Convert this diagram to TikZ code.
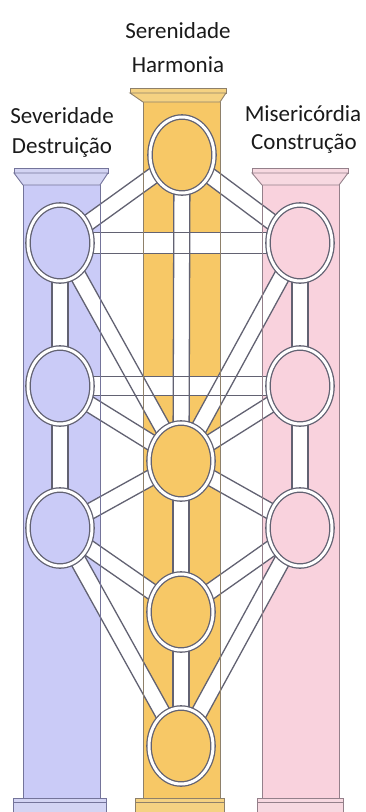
\documentclass[tikz,border=0pt]{standalone}
\usepackage{fontspec}
\setmainfont{Carlito}
\usetikzlibrary{shapes.geometric,calc}
\pgfdeclarelayer{pfill}\pgfdeclarelayer{cfill}\pgfdeclarelayer{cline}
\pgfsetlayers{pfill,cfill,cline,main}
\definecolor{lav}{HTML}{CACBF7}
\definecolor{lavcap}{HTML}{D3D4F3}
\definecolor{lavline}{HTML}{74749A}
\definecolor{pnk}{HTML}{F9D2DD}
\definecolor{pnkcap}{HTML}{F7D9E1}
\definecolor{pnkline}{HTML}{94808A}
\definecolor{ylw}{HTML}{F7C866}
\definecolor{ylwcap}{HTML}{F5D282}
\definecolor{ylwline}{HTML}{8E806A}
\definecolor{gline}{HTML}{626272}
\definecolor{txt}{HTML}{1A1A1A}
\begin{document}
\begin{tikzpicture}[x=1pt,y=-1pt,
  sephira/.style={ellipse, minimum width=64pt, minimum height=76pt, inner sep=0pt,
    draw=gline, line width=1.3pt, double=white, double distance=3pt},
  chanfill/.style={white, line cap=butt},
  chanline/.style={draw=gline, line width=1.3pt},
  lab/.style={font=\fontsize{23}{27}\selectfont, text=txt, anchor=base, inner sep=0pt}]
\useasboundingbox (0,0) rectangle (365,812);

% pillars (fills)
\begin{pgfonlayer}{pfill}
  % left
  \fill[lav] (23,185) rectangle (100,798);
  \filldraw[fill=lavcap, draw=lavline, line width=0.9pt] (14,168) rectangle (108,173);
  \filldraw[fill=lavcap, draw=lavline, line width=0.9pt] (14,173) -- (108,173) -- (100,185) -- (23,185) -- cycle;
  \filldraw[fill=lavcap, draw=lavline, line width=0.9pt] (13,798) rectangle (106,814);
  \draw[lavline, line width=0.7pt] (13,802) -- (106,802);
  % middle
  \fill[ylw] (143,102) rectangle (220,798);
  \filldraw[fill=ylwcap, draw=ylwline, line width=0.9pt] (130,88) rectangle (226,93);
  \filldraw[fill=ylwcap, draw=ylwline, line width=0.9pt] (130,93) -- (226,93) -- (220,102) -- (143,102) -- cycle;
  \filldraw[fill=ylwcap, draw=ylwline, line width=0.9pt] (135,798) rectangle (224,814);
  \draw[ylwline, line width=0.7pt] (135,802) -- (224,802);
  % right
  \fill[pnk] (262,185) rectangle (339,798);
  \filldraw[fill=pnkcap, draw=pnkline, line width=0.9pt] (252,168) rectangle (348,173);
  \filldraw[fill=pnkcap, draw=pnkline, line width=0.9pt] (252,173) -- (348,173) -- (339,185) -- (262,185) -- cycle;
  \filldraw[fill=pnkcap, draw=pnkline, line width=0.9pt] (257,798) rectangle (343,814);
  \draw[pnkline, line width=0.7pt] (257,802) -- (343,802);
\end{pgfonlayer}

% sephiroth
\node[sephira, fill=ylw] (kether)  at (182,155) {};
\node[sephira, fill=lav] (binah)   at (60,243) {};
\node[sephira, fill=pnk] (chokmah) at (300,243) {};
\node[sephira, fill=lav] (geburah) at (60,386) {};
\node[sephira, fill=pnk] (chesed)  at (300,386) {};
\node[sephira, fill=ylw] (tiph)    at (181,461) {};
\node[sephira, fill=lav] (hod)     at (60,528) {};
\node[sephira, fill=pnk] (netzach) at (300,528) {};
\node[sephira, fill=ylw] (yesod)   at (181,612) {};
\node[sephira, fill=ylw] (malkuth) at (181,746) {};

% channels
\def\chanlist{kether/binah/16/8, kether/chokmah/16/8, kether/tiph/16/8,
  binah/chokmah/21/10.5, binah/geburah/16/8, chokmah/chesed/16/8,
  binah/tiph/16/8, chokmah/tiph/16/8, geburah/chesed/19/9.5,
  geburah/tiph/16/8, chesed/tiph/16/8, geburah/hod/16/8, chesed/netzach/16/8,
  hod/tiph/16/8, netzach/tiph/16/8, hod/yesod/16/8, netzach/yesod/16/8,
  hod/malkuth/16/8, netzach/malkuth/16/8, tiph/yesod/16/8, yesod/malkuth/16/8}
\begin{pgfonlayer}{cfill}
  \foreach \a/\b/\w/\h in \chanlist {
    \draw[chanfill, line width=\w pt] (\a.center) -- (\b.center);
  }
\end{pgfonlayer}
\begin{pgfonlayer}{cline}
  \foreach \a/\b/\w/\h in \chanlist {
    \draw[chanline] ($(\a.center)!\h pt!90:(\b.center)$) -- ($(\b.center)!\h pt!-90:(\a.center)$);
    \draw[chanline] ($(\a.center)!\h pt!-90:(\b.center)$) -- ($(\b.center)!\h pt!90:(\a.center)$);
  }
  % pillar outlines over the channels
  \draw[lavline, line width=1pt] (23,185) -- (23,798) (100,185) -- (100,798);
  \draw[ylwline, line width=1pt] (143,102) -- (143,798) (220,102) -- (220,798);
  \draw[pnkline, line width=1pt] (262,185) -- (262,798) (339,185) -- (339,798);
\end{pgfonlayer}

% labels
\node[lab] (ser) at (178,38) {Serenidade};
\node[lab] (har) at (178,72) {Harmonia};
\node[lab] (sev) at (62,123) {Severidade};
\node[lab] (des) at (62,153) {Destruição};
\node[lab] (mis) at (303,121) {Misericórdia};
\node[lab] (con) at (304,149) {Construção};
\end{tikzpicture}
\end{document}
